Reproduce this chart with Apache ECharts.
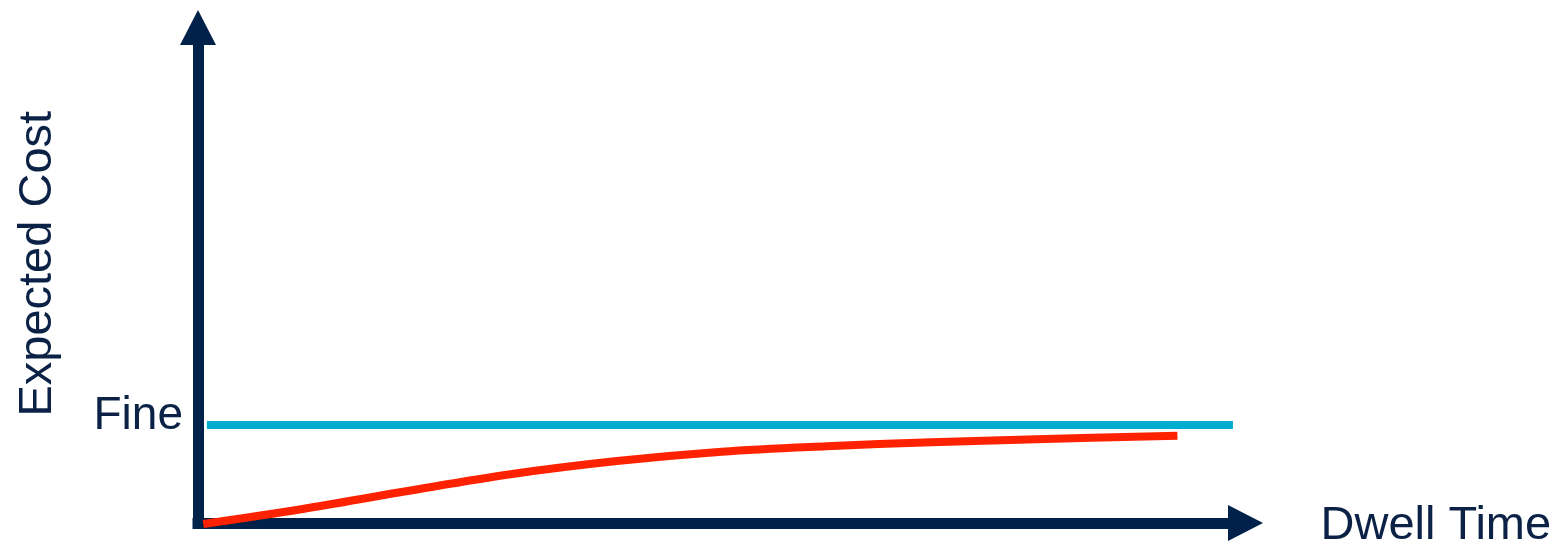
<!DOCTYPE html>
<html>
<head>
<meta charset="utf-8">
<script src="https://cdn.jsdelivr.net/npm/echarts@6/dist/echarts.min.js"></script>
<style>
html,body{margin:0;padding:0;background:#fff;}
#c{width:1564px;height:551px;}
</style>
</head>
<body>
<div id="c"></div>
<script>
// Data (arbitrary units: x 0-100 dwell time, y 0-100 expected cost)
const xAxisName = 'Dwell Time';
const yAxisName = 'Expected Cost';
const fineLabel = 'Fine';
const fineLevel = 19.8;
const fineX = [0.85, 98.8];
const costX = [0.5, 10, 20, 30, 40, 50, 60, 70, 80, 93.5];
const costY = [-0.2, 2.83, 6.46, 9.89, 12.5, 14.4, 15.5, 16.3, 16.9, 17.6];

const navy = '#00214A';
const textColor = '#0B2246';
const font = 'Liberation Sans, Arial, sans-serif';

const chart = echarts.init(document.getElementById('c'), null, {renderer: 'canvas'});
chart.setOption({
  animation: false,
  backgroundColor: '#ffffff',
  grid: {left: 198, right: 318.5, top: 27.5, bottom: 28, containLabel: false, outerBoundsMode: 'none'},
  xAxis: {
    type: 'value', min: 0, max: 100,
    name: '{d|' + xAxisName + '}', nameLocation: 'end', nameGap: 75,
    nameTextStyle: {fontFamily: font, fontSize: 47, color: textColor, align: 'left', verticalAlign: 'middle',
      rich: {d: {fontFamily: font, fontSize: 47, color: textColor, padding: [7, 0, 0, 0]}}},
    axisLine: {show: true, symbol: ['none', 'triangle'], symbolSize: [36, 35],
      lineStyle: {color: navy, width: 11, cap: 'square'}},
    axisTick: {show: false}, axisLabel: {show: false}, splitLine: {show: false}
  },
  yAxis: {
    type: 'value', min: 0, max: 100,
    name: yAxisName, nameLocation: 'middle', nameGap: 136, nameRotate: 90,
    nameTextStyle: {fontFamily: font, fontSize: 47, color: textColor, padding: [0, 0, 0, 23]},
    axisLine: {show: true, onZero: false, symbol: ['none', 'triangle'], symbolSize: [36, 35],
      lineStyle: {color: navy, width: 11, cap: 'square'}},
    axisTick: {show: false},
    splitLine: {show: false},
    axisLabel: {show: true, customValues: [fineLevel], formatter: function(){ return fineLabel; },
      fontFamily: font, fontSize: 46, color: textColor, margin: 15,
      verticalAlign: 'bottom', lineHeight: 18}
  },
  series: [
    {type: 'line', data: fineX.map(x => [x, fineLevel]), showSymbol: false, symbol: 'none',
      lineStyle: {color: '#00ADCF', width: 8, cap: 'butt'}, z: 3, clip: false},
    {type: 'line', data: costX.map((x, i) => [x, costY[i]]), showSymbol: false, symbol: 'none',
      smooth: 0.35,
      lineStyle: {color: '#FF2200', width: 8, cap: 'butt'}, z: 4, clip: false}
  ]
});
</script>
</body>
</html>
